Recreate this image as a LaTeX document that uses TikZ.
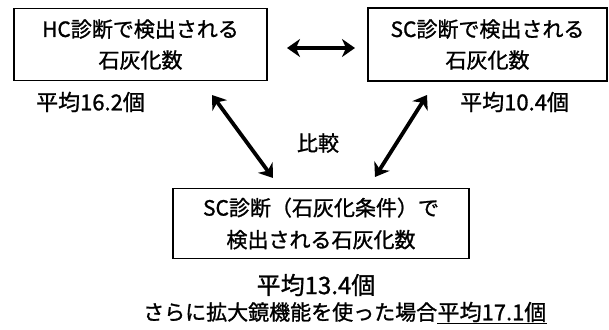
\documentclass[tikz,border=0pt]{standalone}
\usepackage{fontspec}
\setmainfont{Noto Sans CJK JP}[FakeBold=1.2]
\usetikzlibrary{arrows.meta,calc}
\tikzset{
  boxnode/.style={draw=black, line width=1.6pt, inner sep=0pt, align=center, font=\fontsize{21}{31}\selectfont},
  lbl/.style={inner sep=0pt, font=\fontsize{21}{24}\selectfont},
  arr/.style={line width=3.8pt, {Stealth[length=13pt,width=18pt,inset=4pt]}-{Stealth[length=13pt,width=18pt,inset=4pt]}},
}
\begin{document}
\begin{tikzpicture}[x=1pt,y=-1pt]
\useasboundingbox (0,0) rectangle (609,329);
\node[boxnode, minimum width=253pt, minimum height=72pt] (b1) at (140.5,44.5) {HC診断で検出される\\石灰化数};
\node[boxnode, minimum width=239pt, minimum height=73pt] (b2) at (487.5,44.5) {SC診断で検出される\\石灰化数};
\node[boxnode, minimum width=296pt, minimum height=70pt, font=\fontsize{21}{32}\selectfont] (b3) at (321,223.5) {SC診断（石灰化条件）で\\検出される石灰化数};
\node[lbl, font=\fontsize{22}{24}\selectfont] (m1) at (90.5,102) {平均16.2個};
\node[lbl, font=\fontsize{22}{24}\selectfont, anchor=west] (m2) at (460,102) {平均10.4個};
\node[lbl] (cmp) at (318,143) {比較};
\node[lbl, font=\fontsize{24}{26}\selectfont] (m3) at (316,285) {平均13.4個};
\node[lbl, anchor=west] (t1) at (143,312) {さらに拡大鏡機能を使った場合};
\node[lbl, anchor=west, font=\fontsize{22}{24}\selectfont] (t2) at (t1.east) {平均17.1個};
\draw[line width=1.4pt] ($(t2.base west)+(0,3)$) -- ($(t2.base east)+(0,3)$);
\coordinate (h1) at (287,48);
\coordinate (h2) at (355,48);
\coordinate (l1) at (212,95);
\coordinate (l2) at (273,178);
\coordinate (r1) at (427,95);
\coordinate (r2) at (375,177);
\draw[arr] (h1) -- (h2);
\draw[arr] (l1) -- (l2);
\draw[arr] (r1) -- (r2);
\end{tikzpicture}
\end{document}
